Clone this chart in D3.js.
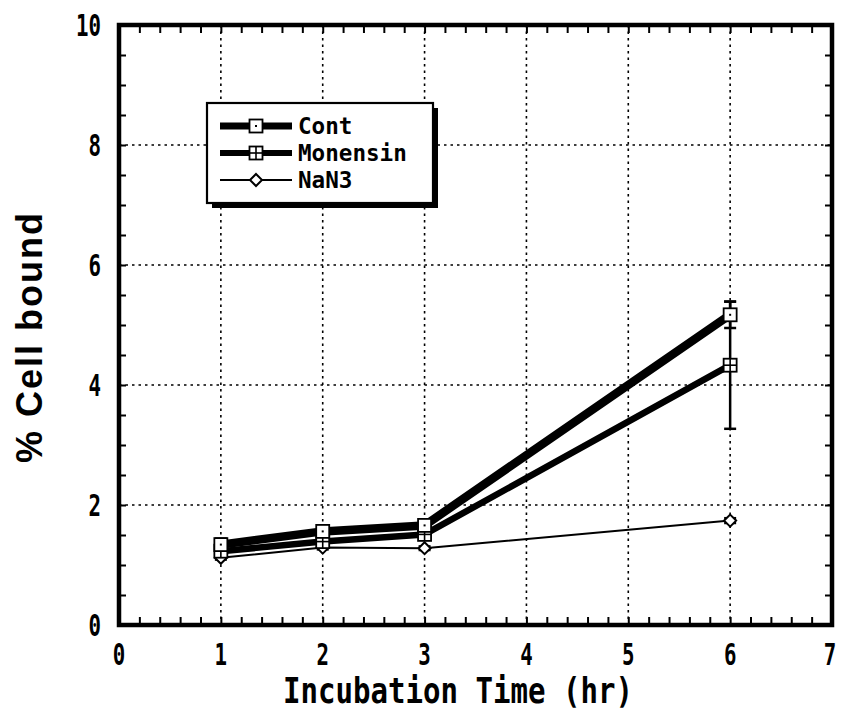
<!DOCTYPE html>
<html>
<head>
<meta charset="utf-8">
<script src="https://cdn.jsdelivr.net/npm/d3@7"></script>
<style>
  html, body { margin: 0; padding: 0; background: #fff; }
  svg { display: block; }
</style>
</head>
<body>
<svg id="chart" width="841" height="710"></svg>
<script>
// Incubation times (hr)
const times = [1, 2, 3, 6];
// % cell bound, per treatment
const contValues = [1.34, 1.56, 1.66, 5.17];
const contErrors = [0.10, 0.04, 0.04, 0.22];
const monensinValues = [1.23, 1.39, 1.51, 4.33];
const monensinErrors = [0.06, 0.04, 0.04, 1.06];
const nan3Values = [1.12, 1.29, 1.28, 1.74];
const nan3Errors = [0.03, 0.03, 0.03, 0.04];
// Axis tick labels
const xTickLabels = [0, 1, 2, 3, 4, 5, 6, 7];
const yTickLabels = [0, 2, 4, 6, 8, 10];
const seriesNames = ["Cont", "Monensin", "NaN3"];

const svg = d3.select("#chart");
const plotLeft = 119, plotRight = 832, plotTop = 25, plotBottom = 625;
const x = d3.scaleLinear().domain([0, 7]).range([plotLeft, plotRight]);
const y = d3.scaleLinear().domain([0, 10]).range([plotBottom, plotTop]);

const MONO = "'DejaVu Sans Mono', monospace";

// Monospaced bold text squeezed to a given width (narrow gothic look)
function monoText(g, str, x0, y0, size, width, anchor) {
  let xs = x0;
  if (anchor === "middle") xs = x0 - width / 2;
  if (anchor === "end") xs = x0 - width;
  return g.append("text")
    .attr("x", xs).attr("y", y0)
    .attr("font-family", MONO).attr("font-weight", "bold")
    .attr("font-size", size)
    .attr("textLength", width).attr("lengthAdjust", "spacingAndGlyphs")
    .attr("fill", "#000")
    .text(str);
}

// Dotted grid
const grid = svg.append("g").attr("stroke", "#000").attr("stroke-width", 1.6)
  .attr("stroke-dasharray", "2.5,4");
grid.selectAll("line.v").data(d3.range(1, 7)).join("line")
  .attr("x1", d => x(d)).attr("x2", d => x(d)).attr("y1", plotTop).attr("y2", plotBottom);
grid.selectAll("line.h").data(d3.range(2, 10, 2)).join("line")
  .attr("x1", plotLeft).attr("x2", plotRight).attr("y1", d => y(d)).attr("y2", d => y(d));

// Inner ticks on all four sides
function tickAxis(axis, tx, ty) {
  const g = svg.append("g").attr("transform", `translate(${tx},${ty})`).call(axis);
  g.select(".domain").remove();
  g.selectAll(".tick line").attr("stroke", "#000").attr("stroke-width", 2);
  return g;
}
const xMinor = d3.range(0, 7.001, 0.2).map(v => +v.toFixed(1));
const yMinor = d3.range(0, 10.001, 0.5);
tickAxis(d3.axisBottom(x).tickValues(xMinor).tickSize(-8).tickFormat(""), 0, plotBottom);
tickAxis(d3.axisTop(x).tickValues(xMinor).tickSize(-8).tickFormat(""), 0, plotTop);
tickAxis(d3.axisLeft(y).tickValues(yMinor).tickSize(-7).tickFormat(""), plotLeft, 0);
tickAxis(d3.axisRight(y).tickValues(yMinor).tickSize(-7).tickFormat(""), plotRight, 0);

// Frame
svg.append("rect")
  .attr("x", plotLeft).attr("y", plotTop)
  .attr("width", plotRight - plotLeft).attr("height", plotBottom - plotTop)
  .attr("fill", "none").attr("stroke", "#000").attr("stroke-width", 4.5);

// Tick labels
const labels = svg.append("g");
xTickLabels.forEach(v => {
  const s = String(v);
  const cx = Math.min(x(v), 830);
  monoText(labels, s, cx, 665, 31, 12.5 * s.length, "middle");
});
yTickLabels.forEach(v => {
  const s = String(v);
  monoText(labels, s, 101, y(v) + 11, 31, 12.5 * s.length, "end");
});

// Axis titles
monoText(svg, "Incubation Time (hr)", 458, 703, 36, 350, "middle");
svg.append("text")
  .attr("transform", "translate(42,338) rotate(-90)")
  .attr("text-anchor", "middle")
  .attr("font-family", "'Liberation Sans', Arial, sans-serif")
  .attr("font-weight", "bold").attr("font-size", 36)
  .attr("textLength", 250).attr("lengthAdjust", "spacing")
  .text("% Cell bound");

// Series
const series = [
  { name: seriesNames[0], values: contValues, errors: contErrors, width: 8.5, marker: "dot" },
  { name: seriesNames[1], values: monensinValues, errors: monensinErrors, width: 6.5, marker: "plus" },
  { name: seriesNames[2], values: nan3Values, errors: nan3Errors, width: 2, marker: "diamond" }
];

const line = d3.line().x(d => x(d[0])).y(d => y(d[1]));
const plot = svg.append("g");

// Lines (thin first so the heavy ones sit on top)
[...series].reverse().forEach(s => {
  plot.append("path")
    .datum(times.map((t, i) => [t, s.values[i]]))
    .attr("d", line)
    .attr("fill", "none").attr("stroke", "#000")
    .attr("stroke-width", s.width).attr("stroke-linejoin", "round");
});

// Error bars
series.forEach(s => {
  times.forEach((t, i) => {
    const g = plot.append("g").attr("stroke", "#000").attr("stroke-width", 2.5);
    const hi = y(s.values[i] + s.errors[i]), lo = y(s.values[i] - s.errors[i]);
    g.append("line").attr("x1", x(t)).attr("x2", x(t)).attr("y1", hi).attr("y2", lo);
    g.append("line").attr("x1", x(t) - 6).attr("x2", x(t) + 6).attr("y1", hi).attr("y2", hi);
    g.append("line").attr("x1", x(t) - 6).attr("x2", x(t) + 6).attr("y1", lo).attr("y2", lo);
  });
});

function drawMarker(g, kind, cx, cy) {
  if (kind === "diamond") {
    g.append("path")
      .attr("d", `M${cx},${cy - 6}L${cx + 6},${cy}L${cx},${cy + 6}L${cx - 6},${cy}Z`)
      .attr("fill", "#fff").attr("stroke", "#000").attr("stroke-width", 2);
    return;
  }
  g.append("rect")
    .attr("x", cx - 6.5).attr("y", cy - 6.5).attr("width", 13).attr("height", 13)
    .attr("fill", "#fff").attr("stroke", "#000").attr("stroke-width", 1.8);
  if (kind === "dot") {
    g.append("rect").attr("x", cx - 1).attr("y", cy - 1).attr("width", 2).attr("height", 2)
      .attr("fill", "#000");
  } else {
    g.append("line").attr("x1", cx - 6.5).attr("x2", cx + 6.5).attr("y1", cy).attr("y2", cy)
      .attr("stroke", "#000").attr("stroke-width", 1.6);
    g.append("line").attr("x1", cx).attr("x2", cx).attr("y1", cy - 6.5).attr("y2", cy + 6.5)
      .attr("stroke", "#000").attr("stroke-width", 1.6);
  }
}

// Markers
[...series].reverse().forEach(s => {
  times.forEach((t, i) => drawMarker(plot, s.marker, x(t), y(s.values[i])));
});

// Legend with drop shadow
const lg = svg.append("g");
lg.append("rect").attr("x", 212).attr("y", 108).attr("width", 226).attr("height", 100).attr("fill", "#000");
lg.append("rect").attr("x", 207).attr("y", 103).attr("width", 226).attr("height", 100)
  .attr("fill", "#fff").attr("stroke", "#000").attr("stroke-width", 2.2);
const legendRows = [126, 153, 180];
const legendLineW = [7, 6, 2];
series.forEach((s, i) => {
  const ly = legendRows[i];
  lg.append("line").attr("x1", 220).attr("x2", 292).attr("y1", ly).attr("y2", ly)
    .attr("stroke", "#000").attr("stroke-width", legendLineW[i]);
  drawMarker(lg, s.marker, 256, ly);
  monoText(lg, s.name, 298, ly + 8, 22.5, 13.6 * s.name.length, "start");
});
</script>
</body>
</html>
